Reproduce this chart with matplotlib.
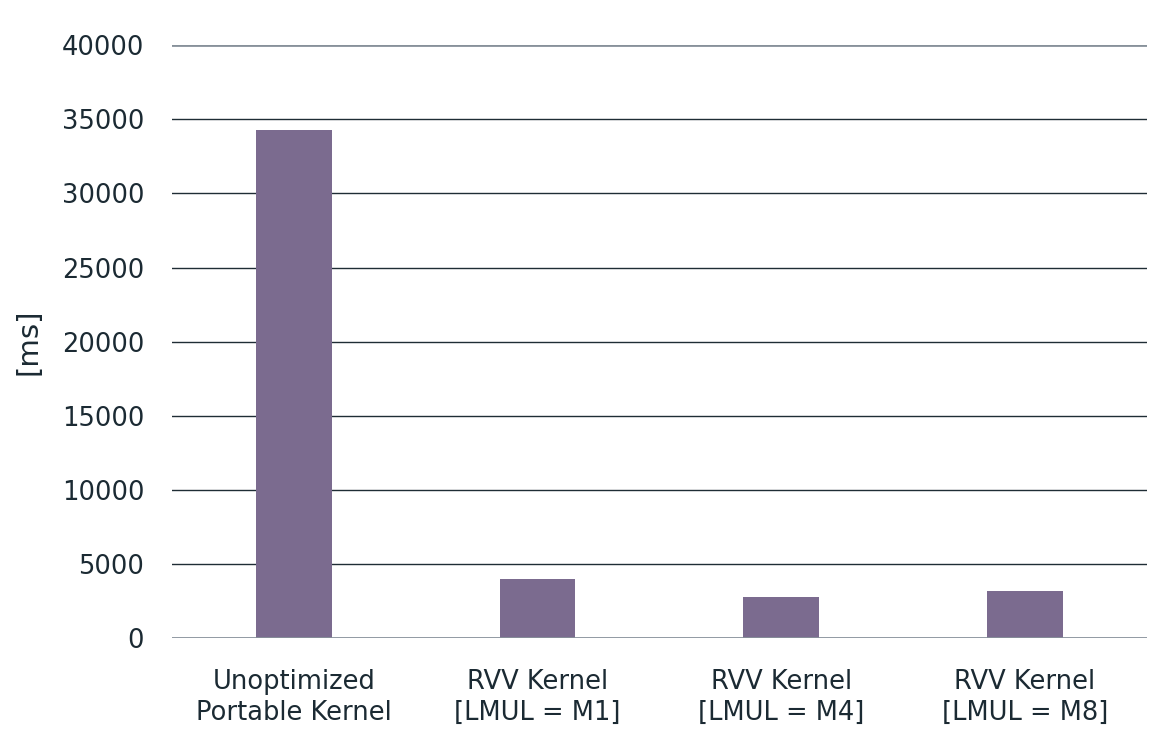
import matplotlib
matplotlib.use("Agg")
import matplotlib.pyplot as plt

# data
categories = ["Unoptimized\nPortable Kernel", "RVV Kernel\n[LMUL = M1]",
              "RVV Kernel\n[LMUL = M4]", "RVV Kernel\n[LMUL = M8]"]
times_ms = [34300, 4000, 2750, 3150]
yticks = [0, 5000, 10000, 15000, 20000, 25000, 30000, 35000, 40000]

bar_color = "#7b6b8f"
text_color = "#1b2a33"
grid_dark = "#1f2d35"
grid_light = "#87919a"

plt.rcParams["font.family"] = ["DejaVu Sans"]

fig = plt.figure(figsize=(11.66, 7.41), dpi=100)
ax = fig.add_axes([0.1475, 0.139, 0.836, 0.8])

x = range(len(categories))
ax.bar(x, times_ms, width=0.31, color=bar_color, zorder=3)

ax.set_xlim(-0.5, len(categories) - 0.5)
ax.set_ylim(0, 40000)
ax.set_yticks(yticks)
ax.set_yticklabels([str(t) for t in yticks])
ax.set_xticks(list(x))
ax.set_xticklabels(categories, linespacing=1.25)

# horizontal grid lines
for t in yticks:
    c = grid_light if t in (0, 40000) else grid_dark
    lw = 2.0 if t in (0, 40000) else 1.0
    ax.axhline(t, color=c, lw=lw, zorder=1 if t else 4)

for s in ax.spines.values():
    s.set_visible(False)
ax.tick_params(axis="both", length=0, labelsize=18.5, colors=text_color)
ax.tick_params(axis="y", pad=20)
ax.tick_params(axis="x", pad=22)

ax.set_ylabel("[ms]", fontsize=21, color=text_color, labelpad=14)

fig.savefig("out.png", dpi=100)
